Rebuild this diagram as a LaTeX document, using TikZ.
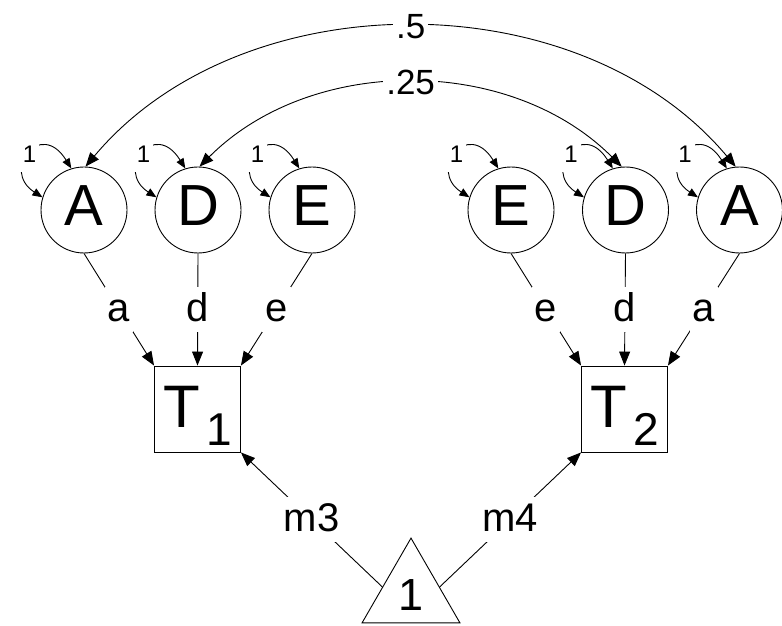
\documentclass[tikz,border=0pt]{standalone}
\usepackage{fontspec}
\setmainfont{Liberation Sans}
\usetikzlibrary{arrows.meta,shapes.geometric}

\begin{document}
\begin{tikzpicture}[x=1pt, y=1pt, line width=0.9pt,
    >={Triangle[length=14pt,width=11pt]},
    latent/.style={circle, draw, minimum size=86pt, inner sep=0pt,
        font=\fontsize{58}{58}\selectfont, text depth=8pt},
    observed/.style={rectangle, draw, minimum size=86pt, inner sep=0pt,
        font=\fontsize{60}{60}\selectfont, text height=54pt},
    constant/.style={regular polygon, regular polygon sides=3, draw,
        minimum size=113pt, inner sep=0pt, font=\fontsize{45}{45}\selectfont},
    coef/.style={fill=white, inner sep=3pt, font=\fontsize{#1}{#1}\selectfont,
        text height=31pt, text depth=8pt},
    coef/.default=40,
    one/.style={fill=white, inner sep=3pt, font=\fontsize{24}{24}\selectfont,
        text height=24pt, text depth=6pt},
    var/.style={>={Triangle[length=10pt,width=8pt]}, <->}]
    \useasboundingbox (0,0) rectangle (782,625);
    % twin 1
    \node[latent] (A1) at (84,415) {A};
    \node[latent] (D1) at (198,415) {D};
    \node[latent] (E1) at (312,415) {E};
    \node[observed] (T1) at (197.5,216) {T\kern6pt\raisebox{-18pt}{\fontsize{46}{46}\selectfont 1}};
    % twin 2
    \node[latent] (E2) at (511,415) {E};
    \node[latent] (D2) at (625.5,415) {D};
    \node[latent] (A2) at (739.5,415) {A};
    \node[observed] (T2) at (624.5,216) {T\kern6pt\raisebox{-18pt}{\fontsize{46}{46}\selectfont 2}};
    % means
    \node[constant] (K) at (411,30.4) {1};
    % variances
    \foreach \v in {A1,D1,E1,E2,D2,A2}
        \draw[var] (\v.163) .. controls +(-42,27) and +(-31,50) .. node[one]{1} (\v.107);
    % covariances
    \draw[<->] (A1.88) to[out=50, in=130, looseness=.96] node[coef=35]{.5} (A2.95);
    \draw[<->] (D1.88) to[out=45, in=135, looseness=.96] node[coef=35]{.25} (D2.95);
    % loadings
    \draw[->] (A1.south) -- node[coef]{a} (T1.north west);
    \draw[->] (D1.south) -- node[coef]{d} (T1.north);
    \draw[->] (E1.south) -- node[coef]{e} (T1.north east);
    \draw[->] (E2.south) -- node[coef]{e} (T2.north west);
    \draw[->] (D2.south) -- node[coef]{d} (T2.north);
    \draw[->] (A2.south) -- node[coef]{a} (T2.north east);
    \draw[->] (K.165) -- node[coef]{m3} (T1.south east);
    \draw[->] (K.15) -- node[coef]{m4} (T2.south west);
\end{tikzpicture}
\end{document}
